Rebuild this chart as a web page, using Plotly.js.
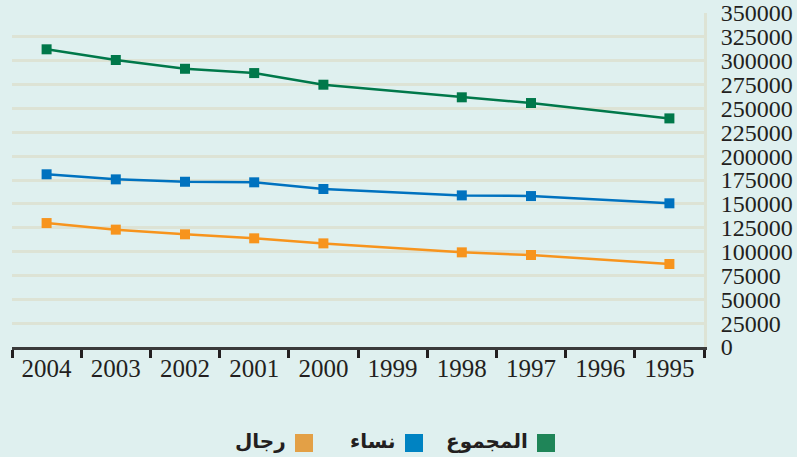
<!DOCTYPE html>
<html>
<head>
<meta charset="utf-8">
<script src="https://cdn.plot.ly/plotly-3.0.1.min.js"></script>
<style>
html,body{margin:0;padding:0;background:#dff0ef;}
#chart{width:797px;height:457px;}
</style>
</head>
<body>
<div id="chart"></div>
<script>
// Categories (all years shown on axis, right-to-left order as in the reference)
const allYears = ['2004','2003','2002','2001','2000','1999','1998','1997','1996','1995'];
// Years that carry data
const dataYears = ['2004','2003','2002','2001','2000','1998','1997','1995'];
// Series values
const total = [312000, 300800, 291600, 287100, 274900, 261700, 255700, 239600];
const women = [181000, 175700, 173200, 172600, 165600, 158900, 158200, 150600];
const men   = [129900, 123000, 118100, 113900, 108600,  99200,  96400,  87000];
// Names (legend labels)
const nameTotal = 'المجموع';
const nameWomen = 'نساء';
const nameMen = 'رجال';
// Y tick values
const yTicks = [0,25000,50000,75000,100000,125000,150000,175000,200000,225000,250000,275000,300000,325000,350000];

const W = 797, H = 457;
const L = 12, R = 93, T = 13, B = 110;
const pw = W - L - R, ph = H - T - B;
const px = x => (x - L) / pw;
const py = y => (H - B - y) / ph;

const serif = 'Liberation Serif, Times New Roman, Times, serif';

function tr(y, name, color) {
  return {
    x: dataYears, y: y, name: name, type: 'scatter', mode: 'lines+markers',
    line: {color: color, width: 2.5},
    marker: {symbol: 'square', size: 10, color: color},
    showlegend: false, hoverinfo: 'x+y+name'
  };
}

const data = [
  tr(total, nameTotal, '#00784a'),
  tr(women, nameWomen, '#0072bf'),
  tr(men, nameMen, '#f7941d')
];

// manual legend (symbol to the right of the text, RTL)
const legendItems = [
  {name: nameMen,   color: '#e3a046', sq: 295},
  {name: nameWomen, color: '#0083c2', sq: 405},
  {name: nameTotal, color: '#1f8558', sq: 537}
];
const shapes = [], annotations = [];
legendItems.forEach(it => {
  shapes.push({type:'rect', xref:'paper', yref:'paper',
    x0: px(it.sq), x1: px(it.sq+18), y0: py(452), y1: py(434),
    fillcolor: it.color, line: {width: 0}});
  annotations.push({xref:'paper', yref:'paper', x: px(it.sq-7), y: py(441),
    xanchor:'right', yanchor:'middle', showarrow:false, text: it.name,
    font:{family:'DejaVu Sans', size:20, color:'#231f20', weight:'bold'}});
});

const layout = {
  width: W, height: H,
  margin: {l: L, r: R, t: T, b: B, pad: 0},
  paper_bgcolor: '#dff0ef',
  plot_bgcolor: '#dff0ef',
  showlegend: false,
  xaxis: {
    type: 'category', categoryorder: 'array', categoryarray: allYears,
    range: [-0.5, 9.5],
    tickson: 'boundaries', ticks: 'outside', ticklen: 8, tickwidth: 3, tickcolor: '#231f20',
    showline: true, linecolor: '#3a3a3a', linewidth: 3,
    showgrid: false, zeroline: false, ticklabelstandoff: -3,
    tickfont: {family: serif, size: 25, color: '#231f20'},
    fixedrange: true
  },
  yaxis: {
    side: 'right', range: [0, 350060], tickvals: yTicks,
    ticktext: yTicks.map(String),
    showgrid: true, gridcolor: '#dde3d5', gridwidth: 3,
    showline: true, linecolor: '#dde3d5', linewidth: 3,
    zeroline: false, ticks: '', ticklabelstandoff: 9,
    tickfont: {family: serif, size: 24, color: '#231f20'},
    fixedrange: true
  },
  shapes: shapes,
  annotations: annotations
};

Plotly.newPlot('chart', data, layout, {displayModeBar: false, staticPlot: true});
</script>
</body>
</html>
